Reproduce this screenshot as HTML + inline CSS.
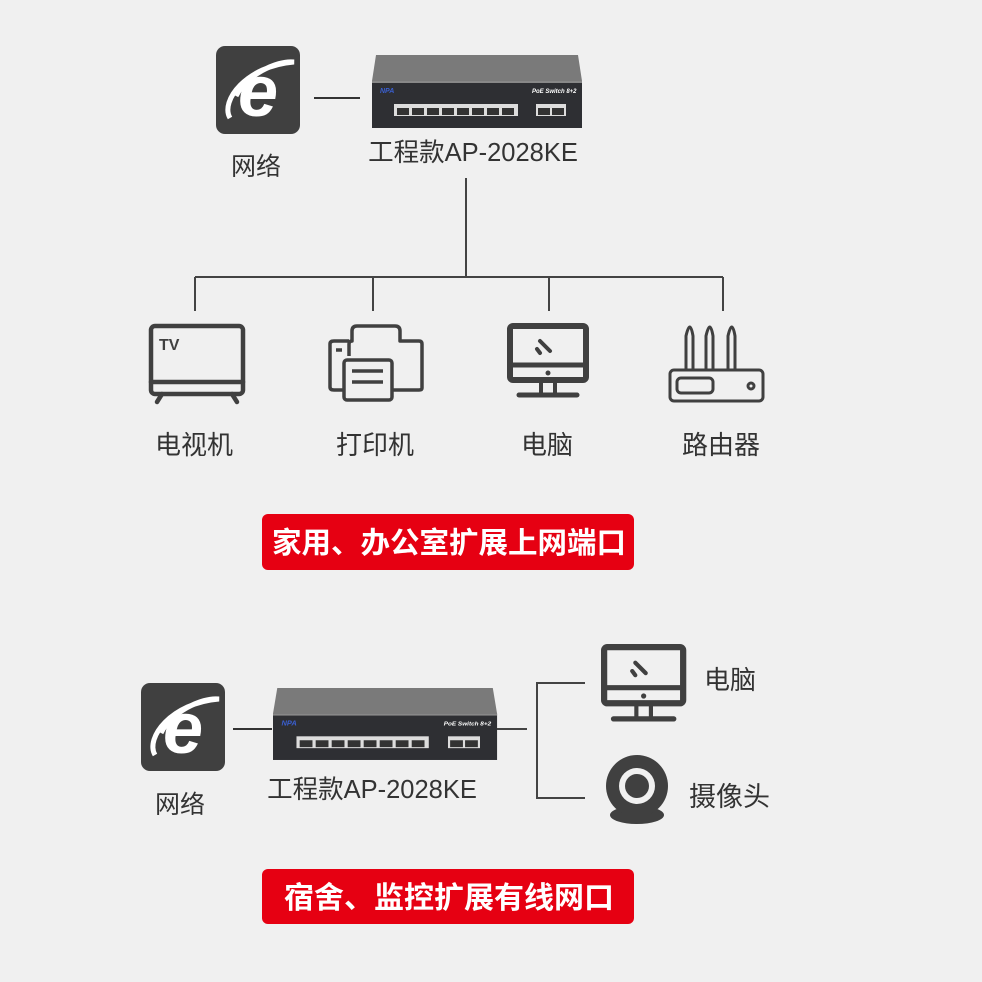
<!DOCTYPE html>
<html><head><meta charset="utf-8"><style>
body{margin:0;background:#f0f0f0;}
svg{display:block}
text{font-family:"Liberation Sans","Noto Sans CJK SC",sans-serif;}
</style></head><body>
<svg width="982" height="982" viewBox="0 0 982 982">
<rect width="982" height="982" fill="#f0f0f0"/>
<defs>
<g id="ie">
<rect x="0" y="0" width="84" height="88" rx="9" fill="#404040"/>
<text x="42" y="70" font-size="72" font-weight="bold" font-style="italic" fill="#fff" text-anchor="middle" font-family="Liberation Sans,sans-serif">e</text>
<path d="M14 72 C 4 55 30 20 78 16 C 60 14 30 30 20 50" fill="none" stroke="#fff" stroke-width="5"/>
</g>
<g id="sw">
<polygon points="4,0 206,0 210,26 0,26" fill="#7a7a7a"/>
<rect x="0" y="26" width="210" height="47" fill="#2e2f33"/>
<rect x="0" y="26" width="210" height="2" fill="#888"/>
<text x="8" y="38" font-size="7" font-weight="bold" font-style="italic" fill="#3a5fd0">NPA</text>
<text x="160" y="38" font-size="6" font-weight="bold" font-style="italic" fill="#fff">PoE Switch 8+2</text>
<g fill="#ddd">
<rect x="22" y="49" width="124" height="12"/>
<rect x="164" y="49" width="30" height="12"/>
</g>
<g fill="#333">
<rect x="25" y="53" width="12" height="7"/><rect x="40" y="53" width="12" height="7"/><rect x="55" y="53" width="12" height="7"/><rect x="70" y="53" width="12" height="7"/><rect x="85" y="53" width="12" height="7"/><rect x="100" y="53" width="12" height="7"/><rect x="115" y="53" width="12" height="7"/><rect x="130" y="53" width="12" height="7"/>
<rect x="166" y="53" width="12" height="7"/><rect x="180" y="53" width="12" height="7"/>
</g>
</g>
<g id="mon">
<rect x="3" y="3" width="76" height="54" rx="3" fill="none" stroke="#404040" stroke-width="6"/>
<line x1="3" y1="42" x2="79" y2="42" stroke="#404040" stroke-width="5"/>
<circle cx="41" cy="50" r="2.5" fill="#404040"/>
<line x1="34" y1="57" x2="34" y2="70" stroke="#404040" stroke-width="4"/>
<line x1="48" y1="57" x2="48" y2="70" stroke="#404040" stroke-width="4"/>
<line x1="12" y1="72" x2="70" y2="72" stroke="#404040" stroke-width="5" stroke-linecap="round"/>
<line x1="33" y1="18" x2="43" y2="28" stroke="#404040" stroke-width="4" stroke-linecap="round"/>
<line x1="30" y1="26" x2="33" y2="30" stroke="#404040" stroke-width="4" stroke-linecap="round"/>
</g>
</defs>

<use href="#ie" x="216" y="46"/>
<line x1="314" y1="98" x2="360" y2="98" stroke="#333" stroke-width="2"/>
<use href="#sw" x="372" y="55"/>
<text x="473" y="161" font-size="25.5" fill="#333" text-anchor="middle">工程款AP-2028KE</text>
<text x="256" y="175" font-size="25" fill="#333" text-anchor="middle">网络</text>

<g stroke="#444" stroke-width="2" fill="none">
<line x1="466" y1="178" x2="466" y2="277"/>
<line x1="195" y1="277" x2="723" y2="277"/>
<line x1="195" y1="277" x2="195" y2="311"/>
<line x1="373" y1="277" x2="373" y2="311"/>
<line x1="549" y1="277" x2="549" y2="311"/>
<line x1="723" y1="277" x2="723" y2="311"/>
</g>

<!-- TV -->
<g stroke="#404040" fill="none" stroke-width="4.5" stroke-linecap="round">
<rect x="151" y="326" width="92" height="68" rx="4"/>
<line x1="151" y1="382" x2="243" y2="382"/>
<line x1="162" y1="394" x2="157" y2="402"/>
<line x1="232" y1="394" x2="237" y2="402"/>
</g>
<text x="159" y="350" font-size="16" font-weight="bold" fill="#404040">TV</text>
<!-- printer -->
<g stroke="#404040" fill="none" stroke-width="3.5" stroke-linejoin="round">
<path d="M349 356 V344 Q349 341 352 341 H352 V331 Q352 326 357 326 H395 Q400 326 400 331 V341 H419 Q422 341 422 344 V388 Q422 390 419 390 H334 Q330 390 330 387 V344 Q330 341 334 341 H349"/>
<rect x="344" y="360" width="48" height="40" rx="3" fill="#f0f0f0"/>
<line x1="336" y1="350" x2="342" y2="350"/>
<line x1="352" y1="371" x2="383" y2="371"/>
<line x1="352" y1="382" x2="383" y2="382"/>
</g>
<use href="#mon" x="507" y="323"/>
<!-- router -->
<g stroke="#404040" fill="none" stroke-width="3" stroke-linejoin="round">
<path d="M686 370 V336 Q690 318 693 336 V370 M706 370 V336 Q710 318 713 336 V370 M728 370 V336 Q732 318 735 336 V370"/>
<rect x="670" y="370" width="93" height="31" rx="4"/>
<rect x="677" y="378" width="36" height="15" rx="4"/>
<circle cx="751" cy="386" r="3"/>
</g>

<g font-size="26" fill="#333" text-anchor="middle">
<text x="194" y="454">电视机</text>
<text x="375" y="454">打印机</text>
<text x="547" y="454">电脑</text>
<text x="721" y="454">路由器</text>
</g>

<rect x="262" y="514" width="372" height="56" rx="6" fill="#e60012"/>
<text x="449" y="553" font-size="29.5" font-weight="bold" fill="#fff" text-anchor="middle">家用、办公室扩展上网端口</text>

<!-- bottom -->
<use href="#ie" x="141" y="683"/>
<text x="180" y="813" font-size="25" fill="#333" text-anchor="middle">网络</text>
<line x1="233" y1="729" x2="272" y2="729" stroke="#333" stroke-width="2"/>
<use href="#sw" x="273" y="688" transform="translate(273 688) scale(1.067 0.986) translate(-273 -688)"/>
<text x="372" y="798" font-size="25.5" fill="#333" text-anchor="middle">工程款AP-2028KE</text>
<g stroke="#444" stroke-width="2" fill="none">
<line x1="497" y1="729" x2="527" y2="729"/>
<path d="M585 683 H537 V798 H585"/>
</g>
<use href="#mon" x="601" y="644" transform="translate(601 644) scale(1.04) translate(-601 -644)"/>
<g fill="#404040">
<ellipse cx="637" cy="815" rx="27" ry="9"/>
<circle cx="637" cy="786" r="31"/>
</g>
<circle cx="637" cy="786" r="18" fill="#f0f0f0"/>
<circle cx="637" cy="786" r="12" fill="#404040"/>
<text x="704" y="689" font-size="26" fill="#333">电脑</text>
<text x="689" y="806" font-size="27" fill="#333">摄像头</text>

<rect x="262" y="869" width="372" height="55" rx="6" fill="#e60012"/>
<text x="449" y="908" font-size="30" font-weight="bold" fill="#fff" text-anchor="middle">宿舍、监控扩展有线网口</text>
</svg>
</body></html>
